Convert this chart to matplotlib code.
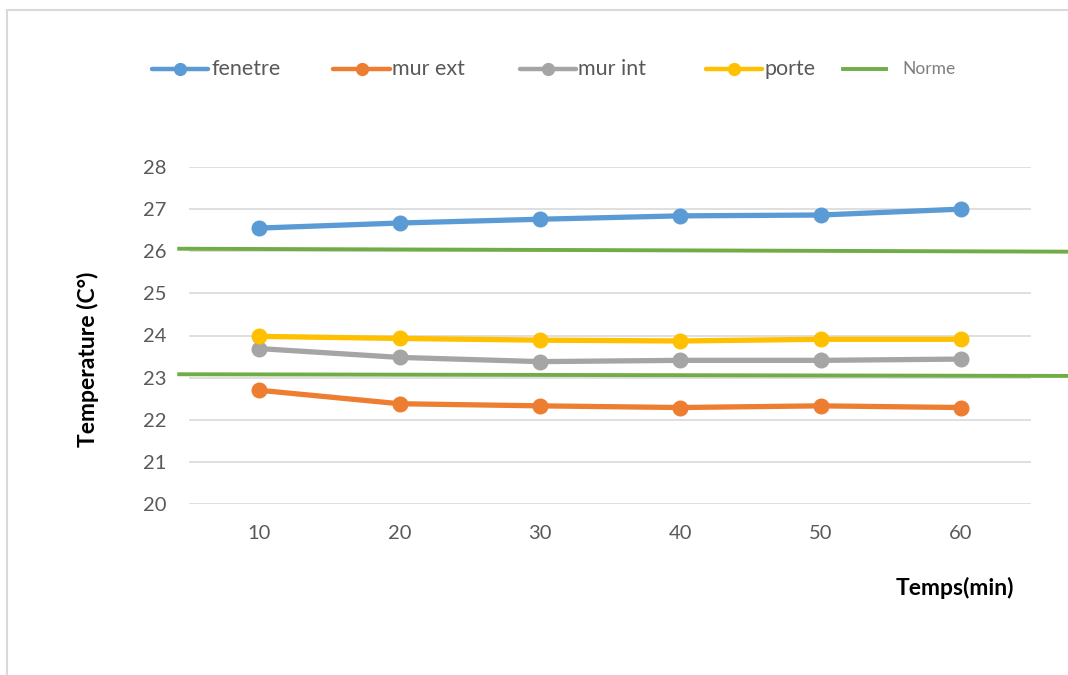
import matplotlib
matplotlib.use("Agg")
import matplotlib.pyplot as plt
from matplotlib.lines import Line2D
from matplotlib.patches import Rectangle

plt.rcParams['font.family'] = ['Lato', 'DejaVu Sans']

# Temps de mesure (min)
temps = [10, 20, 30, 40, 50, 60]

# Températures mesurées (°C)
fenetre = [26.55, 26.67, 26.76, 26.84, 26.86, 27.00]
mur_ext = [22.70, 22.38, 22.33, 22.29, 22.33, 22.29]
mur_int = [23.69, 23.48, 23.38, 23.41, 23.41, 23.44]
porte = [23.98, 23.93, 23.89, 23.87, 23.91, 23.91]

# Limites de la norme (début, fin)
norme_haute = [26.06, 25.99]
norme_basse = [23.08, 23.04]
norme_x = [4.3, 67.6]

series = [
    ("fenetre", fenetre, "#5B9BD5"),
    ("mur ext", mur_ext, "#ED7D31"),
    ("mur int", mur_int, "#A5A5A5"),
    ("porte", porte, "#FFC000"),
]
norme_color = "#70AD47"
text_color = "#595959"

fig = plt.figure(figsize=(10.68, 6.75), dpi=100)
ax = fig.add_axes([189 / 1068, 1 - 504 / 675, (1031 - 189) / 1068, (504 - 167) / 675])

for name, vals, col in series:
    ax.plot(temps, vals, color=col, lw=3.8, marker="o", ms=10.5, solid_capstyle="round", zorder=3)

for lvl in (norme_haute, norme_basse):
    ax.plot(norme_x, lvl, color=norme_color, lw=2.8, clip_on=False, zorder=2)

ax.set_xlim(5, 65)
ax.set_ylim(20, 28)
ax.set_xticks(temps)
ax.set_yticks(range(20, 29))
ax.grid(axis="y", color="#D9D9D9", lw=1.2)
ax.set_axisbelow(True)
for s in ax.spines.values():
    s.set_visible(False)
ax.tick_params(length=0, labelsize=14.5, labelcolor=text_color)
ax.tick_params(axis="x", pad=15)
ax.tick_params(axis="y", pad=16)

fig.text(88 / 1068, 1 - 359 / 675, "Temperature (C°)", rotation=90, ha="center", va="center",
         fontsize=16.5, fontweight="bold", color="black")
fig.text(955 / 1068, 1 - 588 / 675, "Temps(min)", ha="center", va="center",
         fontsize=16.5, fontweight="bold", color="black")

# Légende
ly = 1 - 69 / 675
entries = [(152, 208, 211), (333, 390, 392), (520, 576, 578), (706, 762, 764)]
for (name, vals, col), (x0, x1, xt) in zip(series, entries):
    fig.add_artist(Line2D([x0 / 1068, x1 / 1068], [ly, ly], color=col, lw=3.2, solid_capstyle="round"))
    fig.add_artist(Line2D([(x0 + x1) / 2 / 1068], [ly], color=col, marker="o", ms=8.5, lw=0))
    fig.text(xt / 1068, ly, name, ha="left", va="center", fontsize=15.5, color=text_color)
fig.add_artist(Line2D([843 / 1068, 886 / 1068], [ly, ly], color=norme_color, lw=2.8))
fig.text(902 / 1068, ly, "Norme", ha="left", va="center", fontsize=12.5, color="#7F7F7F")

# Cadre du graphique
fig.add_artist(Rectangle((7 / 1068, -0.05), 1.2, 1 - 10 / 675 + 0.05, transform=fig.transFigure,
                         fill=False, edgecolor="#D9D9D9", lw=1.5))

fig.savefig("out.png", dpi=100)
